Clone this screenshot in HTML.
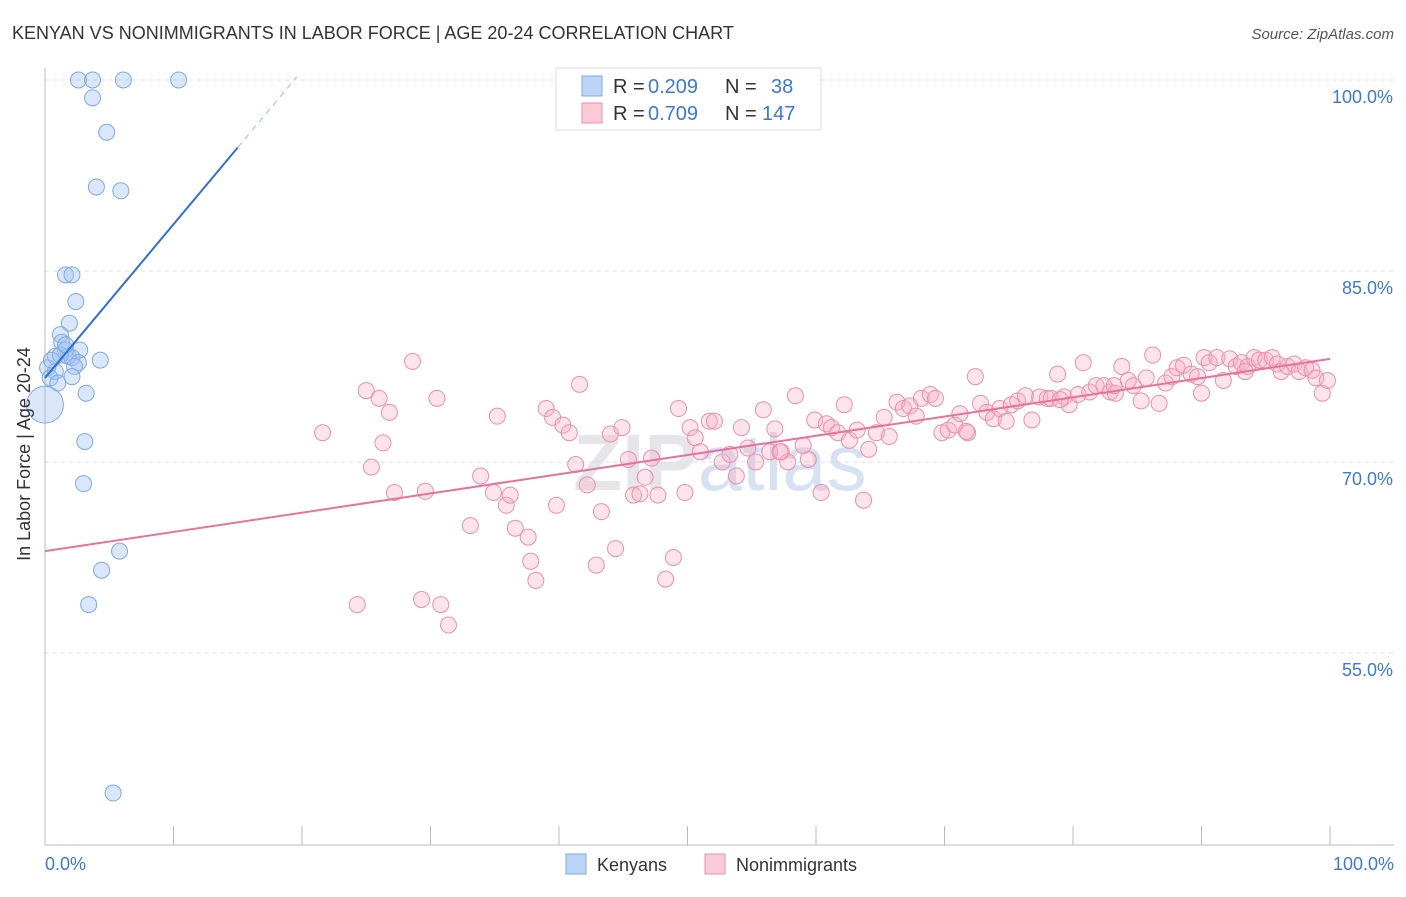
<!DOCTYPE html>
<html><head><meta charset="utf-8">
<style>
body{margin:0;background:#fff;font-family:"Liberation Sans",sans-serif;}
svg text{font-family:"Liberation Sans",sans-serif;}
</style></head><body>
<svg id="chart" width="1406" height="892" xmlns="http://www.w3.org/2000/svg">
<text x="12" y="39" font-size="18" fill="#333">KENYAN VS NONIMMIGRANTS IN LABOR FORCE | AGE 20-24 CORRELATION CHART</text>
<text x="1394" y="39" font-size="15" fill="#555" font-style="italic" text-anchor="end">Source: ZipAtlas.com</text>
<text x="720" y="490" font-size="80" fill="#e6e6ea" text-anchor="middle" font-weight="bold">ZIP<tspan fill="#d6e2f2" font-weight="normal">atlas</tspan></text>
<g id="grid"></g>
<g id="axes"></g>
<g id="pink"></g>
<g id="blue"></g>
<g id="trends"></g>
<text x="34" y="458" font-size="18" fill="#333" text-anchor="middle" transform="rotate(-90 30 458)">In Labor Force | Age 20-24</text>
<g>
<rect x="556" y="68" width="265" height="62" fill="#fff" stroke="#ddd"/>
<rect x="582" y="76" width="20" height="20" fill="#bcd5f7" stroke="#7fa9e0"/>
<rect x="582" y="103" width="20" height="20" fill="#fbcad9" stroke="#e890aa"/>
<text y="93" font-size="20" fill="#333"><tspan x="613">R =</tspan><tspan x="648" fill="#3b78d8">0.209</tspan><tspan x="725">N =</tspan><tspan x="771" fill="#3b78d8">38</tspan></text>
<text y="120" font-size="20" fill="#333"><tspan x="613">R =</tspan><tspan x="648" fill="#3b78d8">0.709</tspan><tspan x="725">N =</tspan><tspan x="762" fill="#3b78d8">147</tspan></text>
</g>
<g>
<rect x="566" y="854" width="20" height="20" fill="#bcd5f7" stroke="#7fa9e0"/>
<text x="597" y="871" font-size="18" fill="#333">Kenyans</text>
<rect x="705" y="854" width="20" height="20" fill="#fbcad9" stroke="#e890aa"/>
<text x="736" y="871" font-size="18" fill="#333">Nonimmigrants</text>
</g>
</svg>
<script>
const yTicks=[100,85,70,55];
const yTickLabels=["100.0%","85.0%","70.0%","55.0%"];
const xTickLabels=["0.0%","100.0%"];
const blueX=[2.6,3.7,6.1,10.4,3.7,4.8,4.0,5.9,1.6,2.1,2.4,1.9,1.2,1.3,1.6,1.8,2.7,0.8,2.1,4.3,2.6,0.2,2.3,0.8,2.1,0.4,1.0,3.2,0,3.1,3.0,5.8,4.4,3.4,5.3,0.5,1.2,1.6];
const blueY=[100,100,100,100,98.6,95.9,91.6,91.3,84.7,84.7,82.6,80.9,80.0,79.4,78.8,78.3,78.8,78.3,78.2,78.0,77.8,77.4,77.5,77.1,76.7,76.6,76.2,75.4,74.5,71.6,68.3,63.0,61.5,58.8,44.0,78.0,78.4,79.2];
const blueSize=[1,1,1,1,1,1,1,1,1,1,1,1,1,1,1,1,1,1,1,1,1,1,1,1,1,1,1,1,2.3,1,1,1,1,1,1,1,1,1];
const pinkX=[21.6,24.3,25.0,25.4,26.0,26.3,26.8,27.2,28.6,29.6,30.5,30.8,29.3,31.4,33.1,33.9,34.9,35.2,35.9,36.2,36.6,37.6,37.8,38.2,39.0,39.5,39.8,40.3,40.8,41.3,41.6,42.2,42.9,43.3,44.0,44.4,44.9,45.4,45.8,46.3,46.7,47.2,47.7,48.3,48.9,49.3,49.8,50.2,50.6,51.0,51.7,52.1,52.7,53.3,53.8,54.2,54.7,55.3,55.9,56.4,56.8,57.3,57.8,58.4,59.0,59.4,59.9,60.4,60.8,61.2,61.7,62.2,62.6,63.2,63.7,64.1,64.7,65.3,65.7,66.3,66.8,67.3,67.8,68.2,68.9,69.3,69.8,70.3,70.8,71.2,71.8,72.4,72.8,73.3,73.8,74.3,74.8,75.2,75.7,76.3,76.8,77.4,78.0,78.3,78.8,79.3,79.7,80.4,80.8,81.3,81.8,82.4,82.9,83.3,83.8,84.3,84.7,85.3,85.7,86.2,86.7,87.2,87.7,88.1,88.6,89.2,89.7,90.2,90.6,91.2,91.7,92.2,92.7,93.1,93.6,94.1,94.5,95.0,95.5,95.9,96.2,96.7,97.2,97.6,98.1,98.6,98.9,99.4,99.8,90.0,93.4,79.0,83.2,71.7,57.2];
const pinkY=[72.3,58.8,75.6,69.6,75.0,71.5,73.9,67.6,77.9,67.7,75.0,58.8,59.2,57.2,65.0,68.9,67.6,73.6,66.6,67.4,64.8,64.1,62.2,60.7,74.2,73.5,66.6,72.9,72.3,69.8,76.1,68.2,61.9,66.1,72.2,63.2,72.7,70.2,67.4,67.5,68.8,70.3,67.4,60.8,62.5,74.2,67.6,72.7,71.9,70.8,73.2,73.2,70.0,70.6,68.9,72.7,71.1,70.0,74.1,70.8,72.6,70.8,70.0,75.2,71.3,70.2,73.3,67.6,73.0,72.7,72.3,74.5,71.7,72.5,67.0,71.0,72.3,73.5,72.0,74.7,74.2,74.4,73.6,75.0,75.3,75.0,72.3,72.5,72.9,73.8,72.3,76.7,74.6,73.9,73.4,74.2,73.2,74.5,74.8,75.2,73.3,75.1,75.0,75.0,76.9,75.1,74.5,75.3,77.8,75.5,76.0,76.0,75.5,75.4,77.5,76.4,76.0,74.8,76.6,78.4,74.6,76.2,76.7,77.4,77.6,76.9,76.7,78.2,77.8,78.2,76.4,78.1,77.5,77.8,77.5,78.2,78.0,78.0,78.2,77.7,77.1,77.5,77.7,77.1,77.4,77.2,76.6,75.4,76.4,75.4,77.1,74.9,76.0,72.4,70.8];
const blueTrend=[76.6,94.7]; // y at x=0 and x=15
const blueTrendX=[0,15,19.6];
const pinkTrend=[63.0,78.1]; // y at x=0 and x=100
const X=v=>45+v*12.85, Y=v=>80+(100-v)*12.733;
const NS="http://www.w3.org/2000/svg";
function mk(t,a,p){const e=document.createElementNS(NS,t);for(const k in a)e.setAttribute(k,a[k]);p.appendChild(e);return e;}
const grid=document.getElementById('grid'),axes=document.getElementById('axes');
yTicks.forEach((v,i)=>{
  const l=mk('line',{x1:45,x2:1394,y1:Y(v),y2:Y(v),stroke:'#ddd','stroke-dasharray':'4,4'},grid);
  
  
  const t=mk('text',{x:1393,y:Y(v)+23,'font-size':18,fill:'#3b78d8','text-anchor':'end'},axes);
  t.textContent=yTickLabels[i];
  
  
});
const al=mk('line',{x1:45,x2:45,y1:68,y2:845,stroke:'#bbb'},axes);


const bl=mk('line',{x1:45,x2:1394,y1:845,y2:845,stroke:'#bbb'},axes);


for(let i=0;i<=10;i++){
  const tk=mk('line',{x1:X(i*10),x2:X(i*10),y1:826,y2:845,stroke:'#bbb'},axes);
  
  
}
[[0,'start',45],[1,'end',1394]].forEach(([i,a,x])=>{
  const t=mk('text',{x:x,y:870,'font-size':18,fill:'#3b78d8','text-anchor':a},axes);
  t.textContent=xTickLabels[i];
  
  
});
const pg=document.getElementById('pink');
pinkX.forEach((x,i)=>{
  const c=mk('circle',{cx:X(x),cy:Y(pinkY[i]),r:8,fill:'rgba(248,175,198,0.35)',stroke:'#e890aa','stroke-width':1},pg);
  
  
});
const bg=document.getElementById('blue');
blueX.forEach((x,i)=>{
  const c=mk('circle',{cx:X(x),cy:Y(blueY[i]),r:8*blueSize[i],fill:'rgba(160,195,240,0.4)',stroke:'#7fa9e0','stroke-width':1},bg);
  
  
});
const tg=document.getElementById('trends');
const bY=x=>blueTrend[0]+(blueTrend[1]-blueTrend[0])*x/15;
const t1=mk('line',{x1:X(blueTrendX[0]),y1:Y(bY(blueTrendX[0])),x2:X(blueTrendX[1]),y2:Y(bY(blueTrendX[1])),stroke:'#2f6fd6','stroke-width':2},tg);


const t2=mk('line',{x1:X(blueTrendX[1]),y1:Y(bY(blueTrendX[1])),x2:X(blueTrendX[2]),y2:Y(bY(blueTrendX[2])),stroke:'#9bb8e6','stroke-width':1,'stroke-dasharray':'6,5'},tg);


const t3=mk('line',{x1:X(0),y1:Y(pinkTrend[0]),x2:X(100),y2:Y(pinkTrend[1]),stroke:'#e8739a','stroke-width':2},tg);


</script>
</body></html>
